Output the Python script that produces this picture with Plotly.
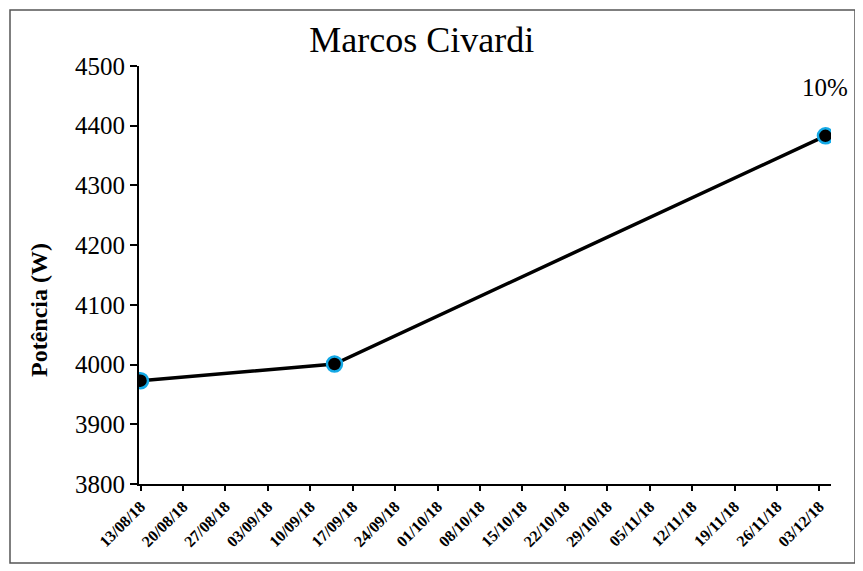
import plotly.graph_objects as go

# session dates and measured power
dates = ['2018-08-13', '2018-09-14', '2018-12-04']
power = [3973, 4001, 4383]
gain_label = '10%'

chart_title = 'Marcos Civardi'
y_title = 'Potência (W)'

serif = 'Liberation Serif'

# page body has an 8px margin, so the figure is a bit smaller than the window
W, H = 855, 563
L, R, T, B = 131, 32, 58, 87
pw, ph = W - L - R, H - T - B

trace = {'x': dates,
         'y': power,
         'type': 'scatter',
         'mode': 'lines+markers',
         'line': {'color': 'black', 'width': 3.5},
         'marker': {'color': 'black', 'size': 15,
                    'line': {'color': '#14A9E6', 'width': 2.5}},
         'showlegend': False}

layout = go.Layout({
    'width': W, 'height': H,
    'margin': {'l': L, 'r': R, 't': T, 'b': B},
    'paper_bgcolor': 'white',
    'plot_bgcolor': 'white',
    'font': {'family': serif, 'color': 'black'},
    'title': {'text': chart_title, 'xref': 'container', 'x': 0.484,
              'xanchor': 'center', 'y': 0.945, 'yanchor': 'middle',
              'font': {'size': 36, 'family': serif, 'color': 'black'}},
    'xaxis': {'type': 'date',
              'range': ['2018-08-12 18:00', '2018-12-04 22:00'],
              'tick0': '2018-08-13', 'dtick': 7 * 86400000,
              'tickformat': '%d/%m/%y', 'tickangle': -45,
              'tickfont': {'size': 16, 'family': serif, 'weight': 'bold'},
              'ticks': 'outside', 'ticklen': 5, 'tickwidth': 2,
              'tickcolor': 'black',
              'showline': True, 'linecolor': 'black', 'linewidth': 2,
              'showgrid': False, 'zeroline': False},
    'yaxis': {'range': [3800, 4500], 'dtick': 100,
              'tickfont': {'size': 25, 'family': serif},
              'ticks': 'outside', 'ticklen': 7, 'tickwidth': 2,
              'tickcolor': 'black',
              'showline': True, 'linecolor': 'black', 'linewidth': 2,
              'showgrid': False, 'zeroline': False},
    'shapes': [{'type': 'rect', 'xref': 'paper', 'yref': 'paper',
                'x0': (2 - L) / pw, 'x1': (847 - L) / pw,
                'y0': (H - B - 555) / ph, 'y1': (H - B - 2) / ph,
                'line': {'color': '#555555', 'width': 1.5}}],
})

fig = go.Figure()
fig.add_trace(trace)
fig.update_layout(layout)
fig.add_annotation(x=dates[-1], y=power[-1], text=gain_label,
                   showarrow=False, yshift=48,
                   font={'size': 25, 'family': serif, 'color': 'black'})
fig.add_annotation(xref='paper', yref='paper',
                   x=(31 - L) / pw, y=(H - B - 302) / ph,
                   text='<b>' + y_title + '</b>', textangle=-90,
                   showarrow=False, xanchor='center', yanchor='middle',
                   font={'size': 24, 'family': serif, 'color': 'black'})

fig.write_html('out.html')
